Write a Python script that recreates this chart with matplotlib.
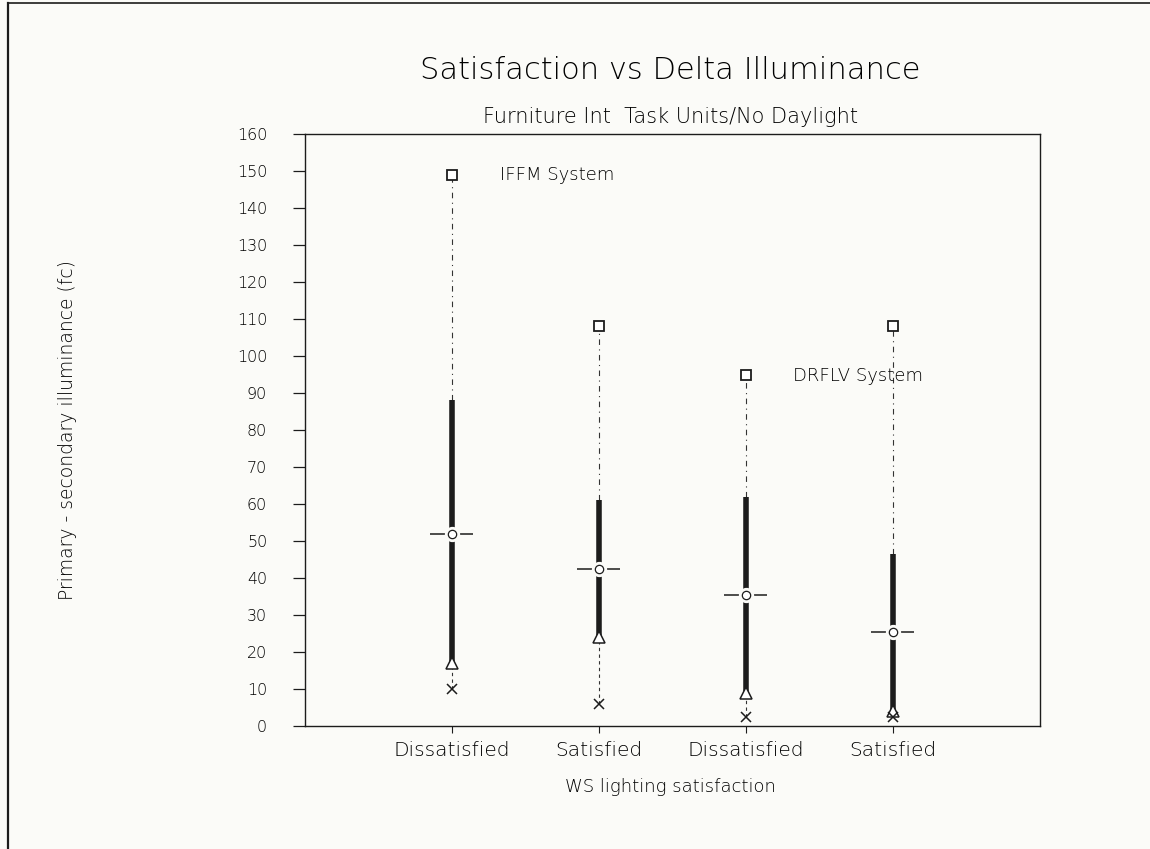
# ----------------------------------------------------------------------------
# Satisfacción vs delta de iluminancia (gráfico alto-bajo por categoría)
# ----------------------------------------------------------------------------
import matplotlib
matplotlib.use('Agg')
import matplotlib.pyplot as plt
from matplotlib.lines import Line2D

# Datos
categorias = ['Dissatisfied', 'Satisfied', 'Dissatisfied', 'Satisfied']
maximos = [149, 108, 95, 108]
superiores = [88, 61, 62, 46.5]
medias = [52, 42.5, 35.5, 25.5]
inferiores = [17, 24, 9, 4]
minimos = [10, 6, 2.5, 2.5]
sistemas = ['IFFM System', 'DRFLV System']
yticks = list(range(0, 161, 10))

TINTA = '#1c1c1c'
LETRA = '#000000'
FONDO = '#fbfbf8'
PESO = 'light'


def graficar_satisfaccion():
    fig = plt.figure(figsize=(11.5, 8.49), dpi=100, facecolor=FONDO)
    ax = fig.add_axes([0.265, 0.145, 0.639, 0.697])
    ax.set_facecolor(FONDO)
    xs = list(range(1, len(categorias) + 1))

    # Bigotes punteados (max -> superior, inferior -> min)
    ax.vlines(xs, superiores, maximos, colors='#333333', linewidth=0.8,
              linestyles=(0, (5, 4, 1, 4)))
    ax.vlines(xs, minimos, inferiores, colors='#333333', linewidth=0.8,
              linestyles=(0, (3, 3)))
    # Barra gruesa
    ax.vlines(xs, inferiores, superiores, colors=TINTA, linewidth=4.0)
    # Marca de la media
    for x, m in zip(xs, medias):
        ax.hlines(m, x - 0.145, x + 0.145, colors=TINTA, linewidth=1.1)
    ax.plot(xs, medias, 'o', ms=10, mfc=FONDO, mec=FONDO, zorder=3)
    ax.plot(xs, medias, 'o', ms=6, mfc='white', mec=TINTA, mew=0.9,
            zorder=4)
    # Extremos
    ax.plot(xs, maximos, 's', ms=7, mfc='white', mec=TINTA, mew=1.3,
            zorder=4)
    ax.plot(xs, inferiores, '^', ms=8, mfc='white', mec=TINTA, mew=1.1,
            zorder=4)
    ax.plot(xs, minimos, 'x', ms=7, color=TINTA, mew=1.1, zorder=4)

    # Etiquetas de sistema
    ax.text(1.33, 149, sistemas[0], fontsize=13, color=LETRA,
            va='center', ha='left', fontweight=PESO)
    ax.text(3.32, 94.5, sistemas[1], fontsize=13, color=LETRA,
            va='center', ha='left', fontweight=PESO)

    # Ejes
    ax.set_xlim(0, 5)
    ax.set_ylim(0, 160)
    ax.set_xticks(xs)
    ax.set_xticklabels(categorias, fontsize=14.5, color=LETRA,
                       fontweight=PESO)
    ax.set_yticks(yticks)
    ax.set_yticklabels([str(v) for v in yticks], fontsize=11.5, color=LETRA,
                       fontweight=PESO)
    ax.tick_params(axis='y', direction='out', length=9, width=0.9,
                   pad=18, colors=TINTA, labelcolor=LETRA)
    ax.tick_params(axis='x', direction='out', length=5, width=0.8,
                   pad=6, colors=TINTA, labelcolor=LETRA)
    for lado in ax.spines.values():
        lado.set_color(TINTA)
        lado.set_linewidth(1.0)

    # Títulos
    fig.text(0.583, 0.9175, 'Satisfaction vs Delta Illuminance',
             fontsize=22, color=LETRA, ha='center', va='center',
             fontweight=PESO)
    fig.text(0.583, 0.862, 'Furniture Int  Task Units/No Daylight',
             fontsize=15, color=LETRA, ha='center', va='center',
             fontweight=PESO)
    fig.text(0.583, 0.073, 'WS lighting satisfaction',
             fontsize=13, color=LETRA, ha='center', va='center',
             fontweight=PESO)
    fig.text(0.059, 0.493, 'Primary - secondary illuminance (fc)',
             fontsize=13.5, color=LETRA, ha='center', va='center',
             rotation=90, fontweight=PESO)

    # Marco de la página escaneada
    fig.add_artist(Line2D([0.007, 0.007], [0.0, 0.996], color=TINTA,
                          linewidth=1.6))
    fig.add_artist(Line2D([0.007, 1.0], [0.996, 0.996], color=TINTA,
                          linewidth=1.2))

    fig.savefig('out.png', dpi=100, facecolor=FONDO)


if __name__ == '__main__':
    graficar_satisfaccion()
